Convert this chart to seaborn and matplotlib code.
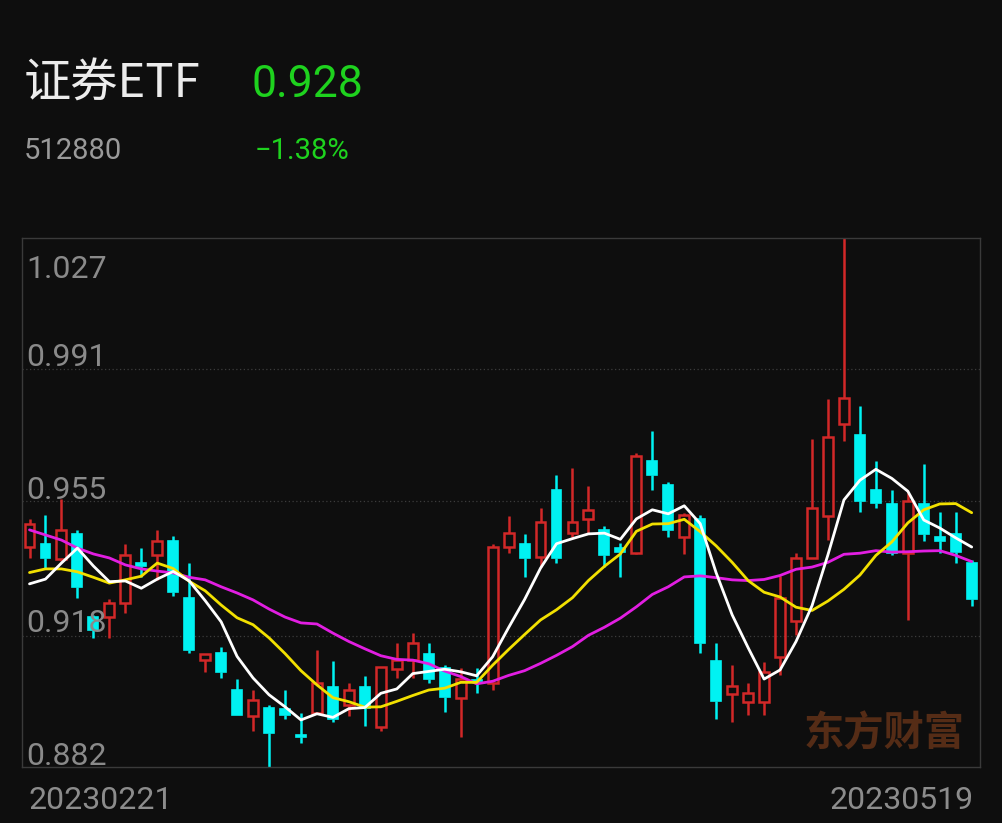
import numpy as np
import pandas as pd
import matplotlib
matplotlib.use("Agg")
import matplotlib.pyplot as plt
import seaborn as sns

# candle data (20230221 .. 20230519, 60 trading days)
opens = [0.9423, 0.9431, 0.9390, 0.9459, 0.9231, 0.9231, 0.9270, 0.9379, 0.9401, 0.9439,
         0.9283, 0.9113, 0.9133, 0.9031, 0.8960, 0.8982, 0.8979, 0.8908, 0.8968, 0.9039,
         0.8990, 0.9039, 0.8930, 0.9089, 0.9113, 0.9130, 0.9092, 0.9009, 0.9058, 0.9050,
         0.9423, 0.9431, 0.9396, 0.9579, 0.9461, 0.9500, 0.9470, 0.9420, 0.9406, 0.9659,
         0.9593, 0.9450, 0.9500, 0.9111, 0.9020, 0.8998, 0.8998, 0.9121, 0.9220, 0.9393,
         0.9508, 0.9760, 0.9730, 0.9579, 0.9541, 0.9406, 0.9541, 0.9450, 0.9459, 0.9379]
highs = [0.9500, 0.9511, 0.9554, 0.9470, 0.9237, 0.9280, 0.9431, 0.9420, 0.9470, 0.9452,
         0.9379, 0.9130, 0.9149, 0.9061, 0.9031, 0.8990, 0.9031, 0.8968, 0.9141, 0.9111,
         0.9050, 0.9069, 0.9094, 0.9160, 0.9187, 0.9160, 0.9100, 0.9092, 0.9092, 0.9431,
         0.9508, 0.9459, 0.9530, 0.9620, 0.9640, 0.9590, 0.9481, 0.9434, 0.9681, 0.9741,
         0.9601, 0.9516, 0.9511, 0.9160, 0.9100, 0.9050, 0.9108, 0.9343, 0.9406, 0.9719,
         0.9829, 1.0270, 0.9810, 0.9659, 0.9579, 0.9571, 0.9650, 0.9519, 0.9519, 0.9387]
lows = [0.9393, 0.9365, 0.9385, 0.9283, 0.9174, 0.9174, 0.9242, 0.9341, 0.9333, 0.9289,
        0.9133, 0.9081, 0.9064, 0.8963, 0.8919, 0.8820, 0.8952, 0.8886, 0.8968, 0.8943,
        0.8960, 0.8932, 0.8919, 0.9064, 0.9064, 0.9050, 0.8971, 0.8902, 0.9023, 0.9031,
        0.9407, 0.9341, 0.9368, 0.9379, 0.9450, 0.9461, 0.9368, 0.9341, 0.9404, 0.9579,
        0.9450, 0.9404, 0.9133, 0.8952, 0.8943, 0.8963, 0.8963, 0.9072, 0.9182, 0.9393,
        0.9442, 0.9714, 0.9519, 0.9530, 0.9401, 0.9223, 0.9439, 0.9406, 0.9379, 0.9261]
closes = [0.9485, 0.9393, 0.9470, 0.9313, 0.9195, 0.9270, 0.9401, 0.9371, 0.9439, 0.9300,
          0.9141, 0.9130, 0.9081, 0.8963, 0.9004, 0.8913, 0.8963, 0.8902, 0.9050, 0.8952,
          0.9031, 0.8982, 0.9094, 0.9113, 0.9160, 0.9061, 0.9012, 0.9061, 0.9055, 0.9423,
          0.9461, 0.9393, 0.9492, 0.9393, 0.9492, 0.9525, 0.9401, 0.9409, 0.9672, 0.9620,
          0.9470, 0.9511, 0.9160, 0.9001, 0.9042, 0.9023, 0.9081, 0.9283, 0.9393, 0.9530,
          0.9725, 0.9831, 0.9549, 0.9544, 0.9406, 0.9549, 0.9459, 0.9439, 0.9409, 0.9280]

# moving average lines
ma5 = [0.9322, 0.9335, 0.9379, 0.9420, 0.9371, 0.9328, 0.9330, 0.9310, 0.9335, 0.9356,
       0.9330, 0.9276, 0.9218, 0.9123, 0.9064, 0.9018, 0.8985, 0.8949, 0.8966, 0.8956,
       0.8980, 0.8983, 0.9022, 0.9034, 0.9076, 0.9082, 0.9088, 0.9081, 0.9070, 0.9122,
       0.9202, 0.9279, 0.9365, 0.9432, 0.9446, 0.9459, 0.9461, 0.9444, 0.9500, 0.9525,
       0.9514, 0.9536, 0.9487, 0.9352, 0.9237, 0.9147, 0.9061, 0.9086, 0.9164, 0.9262,
       0.9402, 0.9552, 0.9606, 0.9636, 0.9611, 0.9576, 0.9497, 0.9475, 0.9448, 0.9423]
ma10 = [0.9353, 0.9363, 0.9363, 0.9355, 0.9340, 0.9324, 0.9333, 0.9343, 0.9379, 0.9364,
        0.9329, 0.9303, 0.9264, 0.9229, 0.9210, 0.9174, 0.9131, 0.9084, 0.9045, 0.9010,
        0.8999, 0.8984, 0.8985, 0.9000, 0.9016, 0.9031, 0.9036, 0.9052, 0.9052, 0.9099,
        0.9142, 0.9183, 0.9223, 0.9251, 0.9284, 0.9331, 0.9370, 0.9404, 0.9466, 0.9486,
        0.9487, 0.9499, 0.9465, 0.9426, 0.9381, 0.9331, 0.9299, 0.9286, 0.9258, 0.9249,
        0.9275, 0.9307, 0.9346, 0.9400, 0.9437, 0.9489, 0.9525, 0.9541, 0.9542, 0.9517]
ma20 = [0.9470, 0.9456, 0.9442, 0.9420, 0.9404, 0.9393, 0.9374, 0.9363, 0.9357, 0.9352,
        0.9340, 0.9333, 0.9314, 0.9297, 0.9278, 0.9253, 0.9231, 0.9215, 0.9212, 0.9187,
        0.9164, 0.9144, 0.9125, 0.9115, 0.9113, 0.9103, 0.9083, 0.9068, 0.9048, 0.9055,
        0.9071, 0.9084, 0.9104, 0.9126, 0.9150, 0.9181, 0.9203, 0.9228, 0.9259, 0.9293,
        0.9314, 0.9341, 0.9344, 0.9339, 0.9333, 0.9331, 0.9334, 0.9345, 0.9362, 0.9368,
        0.9381, 0.9403, 0.9406, 0.9413, 0.9409, 0.9410, 0.9412, 0.9413, 0.9400, 0.9383]

y_levels = [1.027, 0.991, 0.955, 0.918, 0.882]
date_labels = ["20230221", "20230519"]

BG = "#0e0e0e"
RED = "#d22828"
CYAN = "#00f2f2"

df = pd.DataFrame({"open": opens, "high": highs, "low": lows, "close": closes,
                   "MA5": ma5, "MA10": ma10, "MA20": ma20})
df["i"] = np.arange(len(df))

sns.set_style("dark")
plt.rcParams["font.family"] = ["Roboto", "Noto Sans CJK SC", "DejaVu Sans"]

fig = plt.figure(figsize=(10.02, 8.23), dpi=100, facecolor=BG)
ax = fig.add_axes([22 / 1002, 56 / 823, 958 / 1002, 529 / 823])
ax.set_facecolor(BG)

##candles: red hollow = up, cyan filled = down
up = df["close"] >= df["open"]
top = df[["open", "close"]].max(axis=1)
bot = df[["open", "close"]].min(axis=1)
cols = np.where(up, RED, CYAN)
ax.vlines(df["i"], top, df["high"], color=cols, lw=1.8, zorder=2)
ax.vlines(df["i"], df["low"], bot, color=cols, lw=1.8, zorder=2)
ax.bar(df["i"][up], (top - bot)[up], bottom=bot[up], width=0.62,
       facecolor="none", edgecolor=RED, lw=1.8, zorder=3)
ax.bar(df["i"][~up], (top - bot)[~up], bottom=bot[~up], width=0.62,
       facecolor=CYAN, edgecolor=CYAN, lw=1.2, zorder=3)

##moving averages
for col, c in [("MA20", "#e21ee2"), ("MA10", "#f2e000"), ("MA5", "#ffffff")]:
    sns.lineplot(data=df, x="i", y=col, color=c, lw=2.0, ax=ax, zorder=4)

ax.set_xlim(-0.47, 59.52)
ax.set_ylim(0.882, 1.027)
ax.set_xticks([])
ax.set_yticks([])
ax.set_xlabel("")
ax.set_ylabel("")
ax.grid(False)
for s in ax.spines.values():
    s.set_color("#3a3a3a")
    s.set_linewidth(1)
    s.set_visible(True)

for v in y_levels[1:4]:
    ax.axhline(v, color="#3c3c3c", lw=0.9, ls=(0, (1, 2)), zorder=1)

##price labels inside the axes
offsets = [-40, 3, 2, 4, 2]
for v, off in zip(y_levels, offsets):
    ax.annotate(f"{v:.3f}", xy=(0, v), xycoords=ax.get_yaxis_transform(),
                xytext=(4, off), textcoords="offset pixels", va="baseline",
                ha="left", color="#8a8a8a", fontsize=23, zorder=5)

##header
fig.text(24 / 1002, 1 - 98 / 823, "证券ETF", color="#ececec", fontsize=34,
         family=["Noto Sans CJK SC", "DejaVu Sans"], va="baseline")
fig.text(252 / 1002, 1 - 97 / 823, "0.928", color="#1ed21e", fontsize=32,
         va="baseline")
fig.text(24 / 1002, 1 - 159 / 823, "512880", color="#9a9a9a", fontsize=21,
         va="baseline")
fig.text(255 / 1002, 1 - 159 / 823, "\u22121.38%", color="#1ed21e", fontsize=21,
         va="baseline")

##dates
fig.text(28 / 1002, 1 - 809 / 823, date_labels[0], color="#8c8c8c", fontsize=23,
         va="baseline", ha="left")
fig.text(974 / 1002, 1 - 809 / 823, date_labels[1], color="#8c8c8c", fontsize=23,
         va="baseline", ha="right")

##watermark
fig.text(965 / 1002, 1 - 734 / 823, "东方财富", color="#552c16", fontsize=29,
         fontweight="bold", family=["Noto Sans CJK SC"], va="center", ha="right")

fig.savefig("out.png", dpi=100, facecolor=BG)
